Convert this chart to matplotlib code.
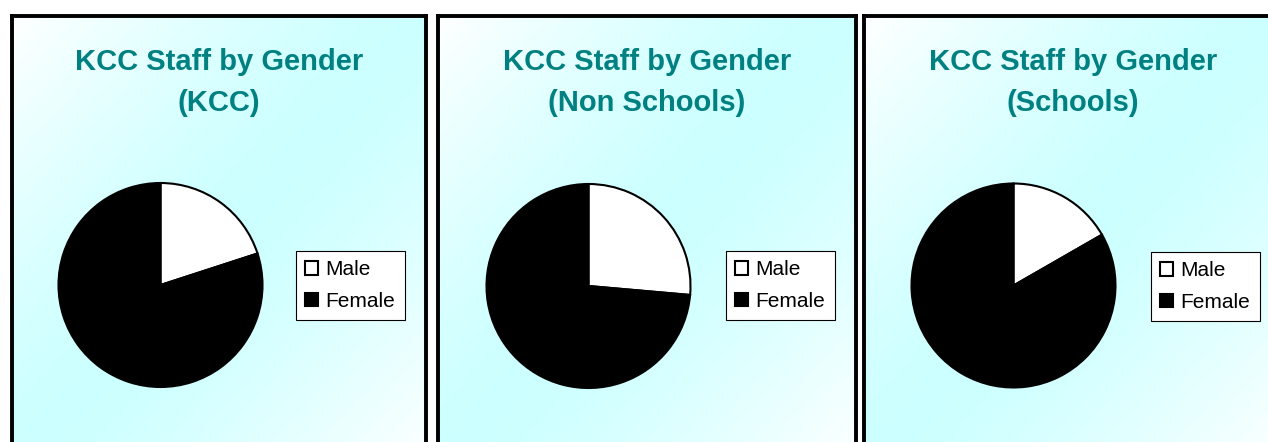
import numpy as np
import matplotlib.pyplot as plt
from matplotlib.patches import Patch

plt.rcParams['font.family'] = ['Liberation Sans', 'DejaVu Sans']

# data
categories = ['Male', 'Female']
kcc = [20.0, 80.0]
non_schools = [26.4, 73.6]
schools = [16.7, 83.3]
titles = ['KCC Staff by Gender\n(KCC)',
          'KCC Staff by Gender\n(Non Schools)',
          'KCC Staff by Gender\n(Schools)']
pie_colors = ['white', 'black']

W, H = 1268, 442
fig = plt.figure(figsize=(W / 100, H / 100), dpi=100)
fig.patch.set_facecolor('white')

# panel layout in pixels: (left, right), pie centre, legend corner
panels = [
    ((11.7, 426.0), (160.5, 285.0), (296, 251)),
    ((438.0, 856.0), (588.5, 286.0), (726, 251)),
    ((864.0, 1282.0), (1013.5, 285.5), (1151, 252)),
]
top, bottom = 15.7, 470.0
radius = 102.0

# diagonal white -> cyan -> white background
n = 300
u = np.linspace(0, 1, n)
uu, vv = np.meshgrid(u, u)
t = (uu + vv) / 2
k = 1 - np.abs(2 * t - 1) ** 1.4
cyan = np.array([0.80, 1.0, 1.0])
grad = 1 - (1 - cyan)[None, None, :] * k[:, :, None]


def px(x0, y0, w, h):
    return [x0 / W, 1 - (y0 + h) / H, w / W, h / H]


for (lr, centre, leg), vals, title in zip(panels, [kcc, non_schools, schools], titles):
    l, r = lr
    bg = fig.add_axes(px(l, top, r - l, bottom - top))
    bg.imshow(grad, extent=(0, 1, 0, 1), aspect='auto', origin='upper')
    bg.set_xlim(0, 1)
    bg.set_ylim(0, 1)
    bg.set_xticks([])
    bg.set_yticks([])
    for s in bg.spines.values():
        s.set_linewidth(2.8)
        s.set_color('black')

    fig.text(((l + r) / 2) / W, 1 - 82.5 / H, title, ha='center', va='center',
             fontsize=21, fontweight='bold', color='#008080', linespacing=1.55)

    lim = 1.02
    side = 2 * radius * lim
    ax = fig.add_axes(px(centre[0] - side / 2, centre[1] - side / 2, side, side))
    ax.pie(vals, colors=pie_colors, startangle=90, counterclock=False,
           wedgeprops=dict(edgecolor='black', linewidth=1.5))
    ax.set_xlim(-lim, lim)
    ax.set_ylim(-lim, lim)
    ax.set_aspect('equal')
    ax.axis('off')

    handles = [Patch(facecolor=c, edgecolor='black', linewidth=1.5) for c in pie_colors]
    ax.legend(handles, categories, loc='upper left',
              bbox_to_anchor=(leg[0] / W, 1 - leg[1] / H),
              bbox_transform=fig.transFigure, fontsize=15,
              frameon=True, fancybox=False, edgecolor='black', framealpha=1,
              handlelength=0.62, handleheight=0.62, handletextpad=0.35,
              borderpad=0.45, labelspacing=0.6, borderaxespad=0)
    ax.get_legend().get_frame().set_linewidth(0.8)

fig.savefig('out.png', dpi=100)
